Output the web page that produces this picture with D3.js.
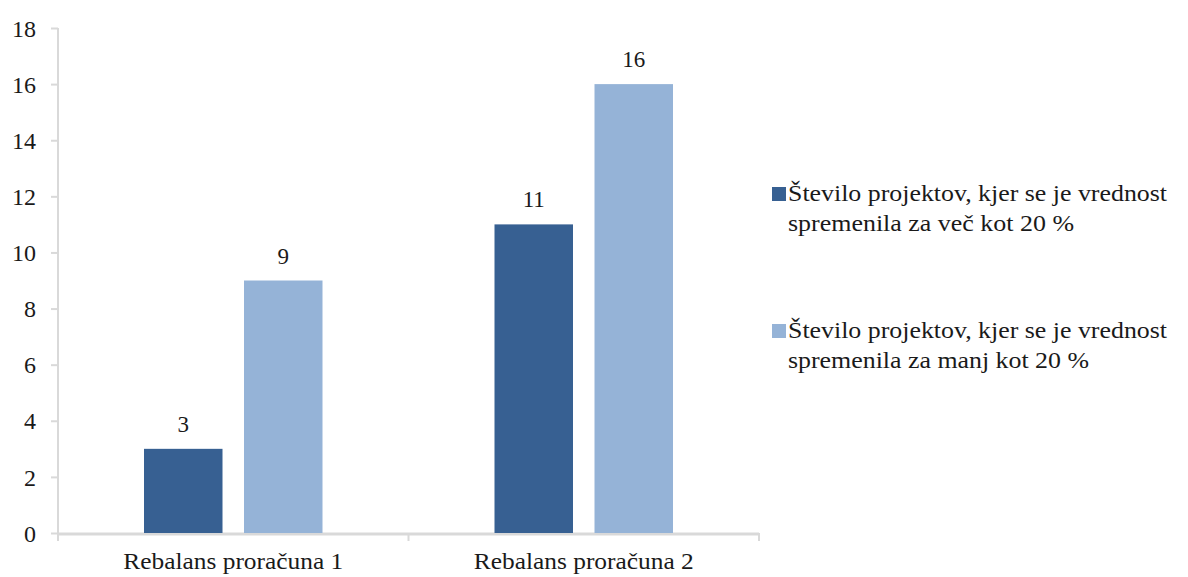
<!DOCTYPE html>
<html>
<head>
<meta charset="utf-8">
<script src="https://cdn.jsdelivr.net/npm/d3@7"></script>
<style>
  html, body { margin: 0; padding: 0; background: #fff; }
</style>
</head>
<body>
<svg id="chart" width="1188" height="577"></svg>
<script>
// Budget revisions and counts of projects by size of value change
const categories = ["Rebalans proračuna 1", "Rebalans proračuna 2"];
const seriesNames = [
  ["Število projektov, kjer se je vrednost", "spremenila za več kot 20 %"],
  ["Število projektov, kjer se je vrednost", "spremenila za manj kot 20 %"]
];
const moreThan20 = [3, 11];
const lessThan20 = [9, 16];
const yTicks = [0, 2, 4, 6, 8, 10, 12, 14, 16, 18];
const colors = ["#376092", "#95B3D7"];

const FONT = "'Liberation Serif', 'Times New Roman', serif";
const TEXT = "#1a1a1a";

const series = [moreThan20, lessThan20];
const svg = d3.select("#chart");

const plot = { left: 58, right: 759, top: 28, bottom: 533 };

const y = d3.scaleLinear().domain([0, 18]).range([plot.bottom, plot.top]);
const x0 = d3.scaleBand().domain(categories).range([plot.left, plot.right]).padding(0);
const x1 = d3.scaleBand().domain([0, 1]).range([0, x0.bandwidth()])
  .paddingInner(0.215).paddingOuter(0.86);

// Y axis
const yAxis = svg.append("g")
  .attr("transform", `translate(${plot.left},0)`)
  .call(d3.axisLeft(y).tickValues(yTicks).tickSize(7).tickPadding(15).tickFormat(d3.format("d")));
yAxis.select(".domain").attr("stroke", "#d9d9d9").attr("stroke-width", 2)
  .attr("d", `M0,${plot.top}V${plot.bottom}`);
yAxis.selectAll(".tick line").attr("stroke", "#d9d9d9").attr("stroke-width", 2);
yAxis.selectAll(".tick text")
  .style("font-family", FONT).style("font-size", "24px").style("fill", TEXT)
  .attr("dy", "0.34em");

// X axis with boundary ticks between categories
const xg = svg.append("g");
xg.append("line")
  .attr("x1", plot.left).attr("x2", plot.right)
  .attr("y1", plot.bottom + 1).attr("y2", plot.bottom + 1)
  .attr("stroke", "#d9d9d9").attr("stroke-width", 3);
const bounds = categories.map(c => x0(c)).concat([x0(categories[categories.length - 1]) + x0.bandwidth()]);
xg.selectAll("line.b").data(bounds).join("line").attr("class", "b")
  .attr("x1", d => d).attr("x2", d => d)
  .attr("y1", plot.bottom).attr("y2", plot.bottom + 8)
  .attr("stroke", "#d9d9d9").attr("stroke-width", 2);
xg.selectAll("text.cat").data(categories).join("text").attr("class", "cat")
  .attr("x", d => x0(d) + x0.bandwidth() / 2)
  .attr("y", 569)
  .attr("text-anchor", "middle")
  .attr("textLength", 220).attr("lengthAdjust", "spacingAndGlyphs")
  .style("font-family", FONT).style("font-size", "24px").style("fill", TEXT)
  .text(d => d);

// Bars
const groups = svg.append("g").selectAll("g").data(categories).join("g")
  .attr("transform", d => `translate(${x0(d)},0)`);
groups.selectAll("rect").data((c, i) => series.map((s, k) => ({ k, v: s[i] }))).join("rect")
  .attr("x", d => x1(d.k))
  .attr("width", x1.bandwidth())
  .attr("y", d => y(d.v))
  .attr("height", d => y(0) - y(d.v))
  .attr("fill", d => colors[d.k]);

// Value labels
groups.selectAll("text.val").data((c, i) => series.map((s, k) => ({ k, v: s[i] }))).join("text")
  .attr("class", "val")
  .attr("x", d => x1(d.k) + x1.bandwidth() / 2)
  .attr("y", d => y(d.v) - 17)
  .attr("text-anchor", "middle")
  .style("font-family", FONT).style("font-size", "23px").style("fill", TEXT)
  .text(d => d.v);

// Legend
const legendY = [194, 331];
const lineWidths = [[379, 286], [379, 301]];
const leg = svg.append("g").selectAll("g").data(seriesNames).join("g")
  .attr("transform", (d, i) => `translate(772,${legendY[i]})`);
leg.append("rect").attr("x", 0).attr("y", -7).attr("width", 14).attr("height", 14)
  .attr("fill", (d, i) => colors[i]);
leg.each(function (lines, i) {
  d3.select(this).selectAll("text").data(lines).join("text")
    .attr("x", 16)
    .attr("y", (t, j) => 7 + j * 30)
    .attr("textLength", (t, j) => lineWidths[i][j])
    .attr("lengthAdjust", "spacingAndGlyphs")
    .style("font-family", FONT).style("font-size", "24px").style("fill", TEXT)
    .text(t => t);
});
</script>
</body>
</html>
